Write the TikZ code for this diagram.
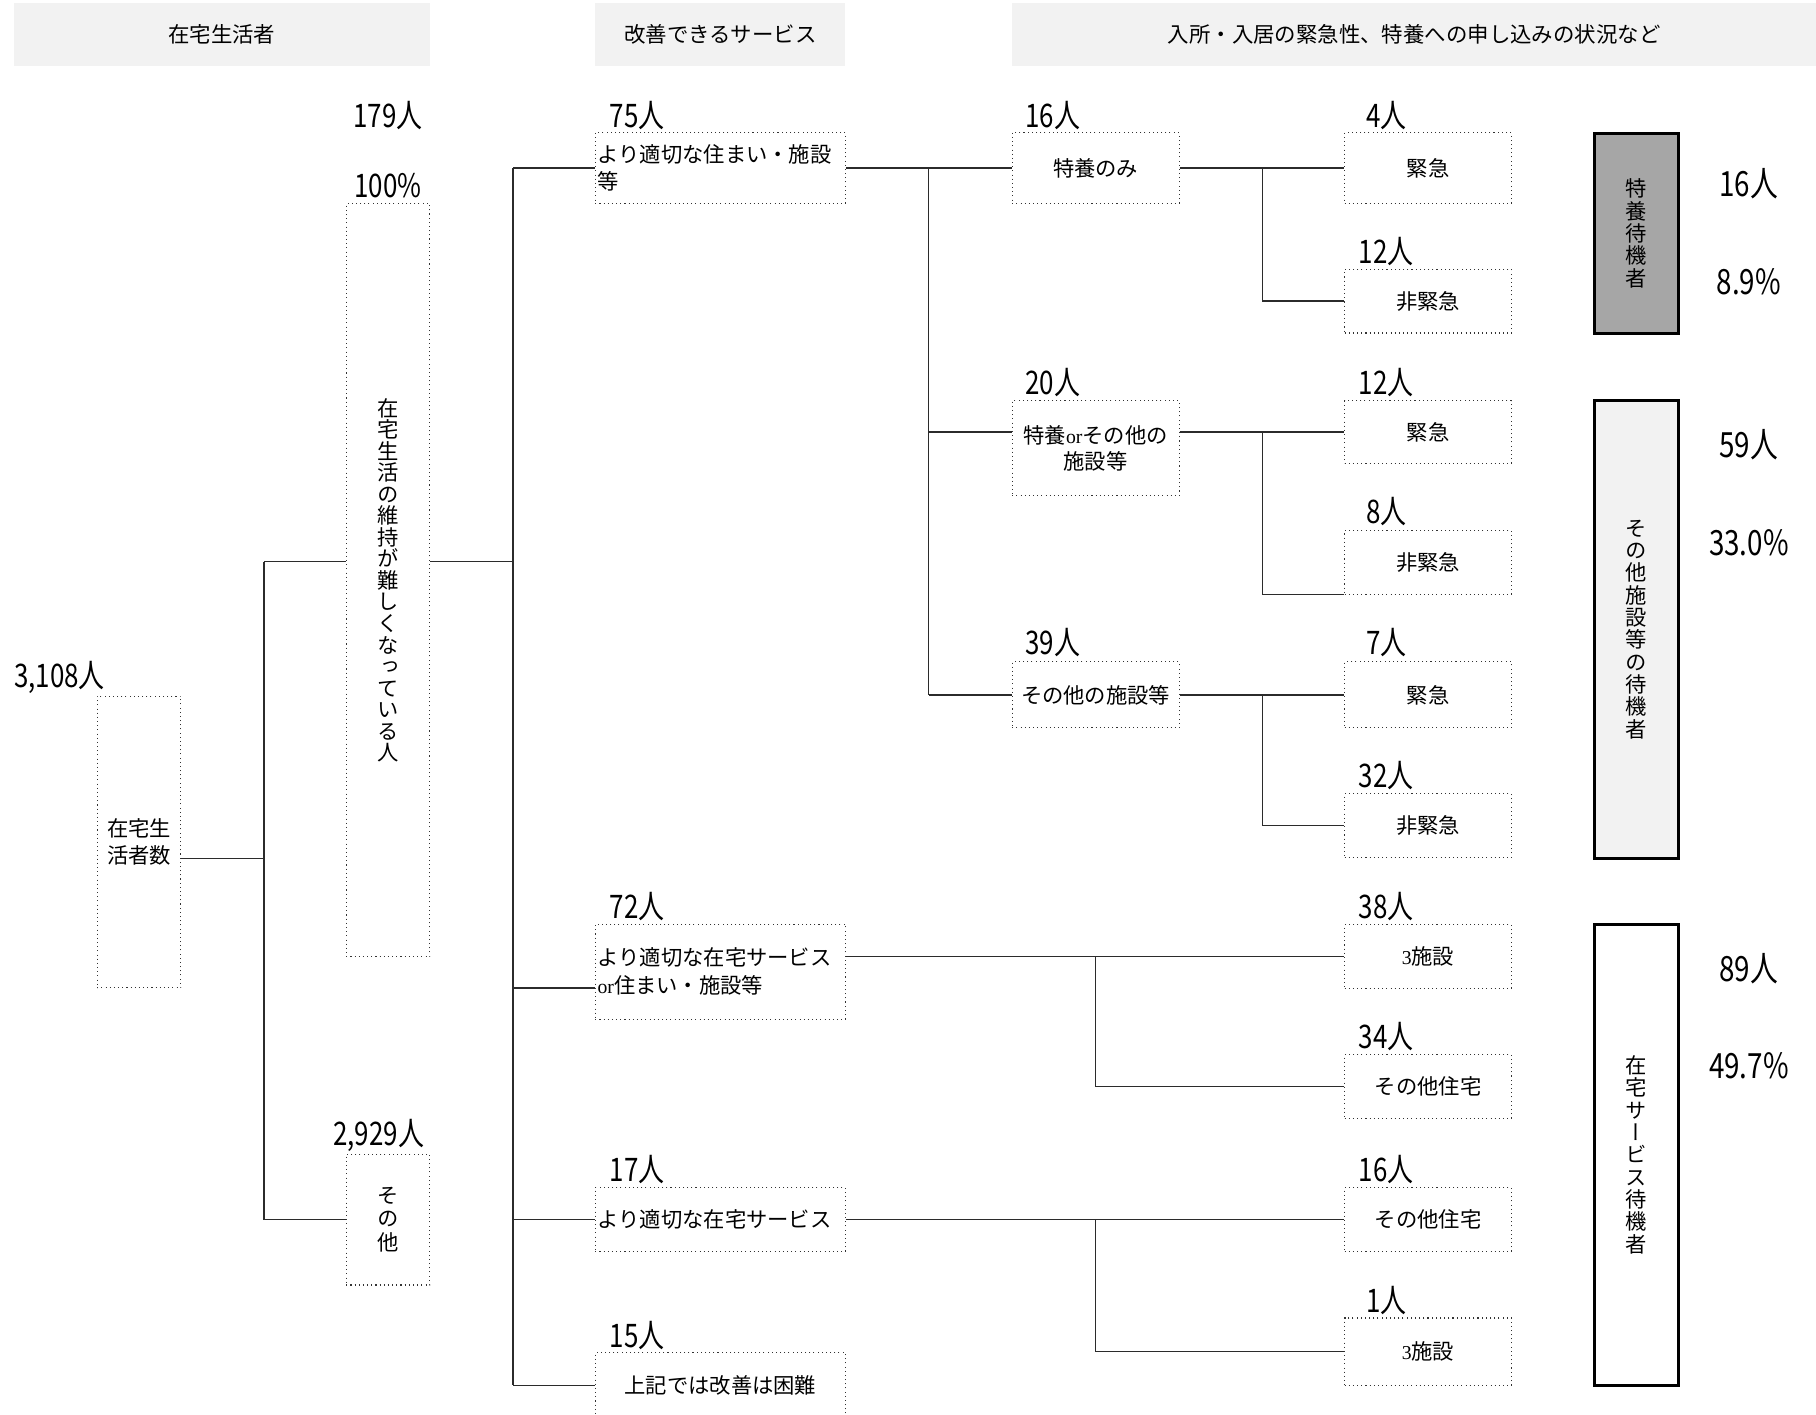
\documentclass[tikz,border=0pt]{standalone}
\usepackage{fontspec}
\usepackage{graphicx}
\setmainfont{Noto Sans CJK JP}
\newfontfamily\numfont[FakeStretch=0.8]{Noto Sans CJK JP}
\newfontfamily\vfont[RawFeature=+vert]{Noto Sans CJK JP}
\newfontfamily\serfont{Liberation Serif}
\usetikzlibrary{calc}
\definecolor{hdr}{HTML}{F2F2F2}
\definecolor{dgray}{HTML}{A6A6A6}
\definecolor{lgray}{HTML}{F2F2F2}
\definecolor{conncol}{HTML}{2B2B2B}
\begin{document}
\begin{tikzpicture}[x=1pt,y=-1pt,
  hdrbox/.style={fill=hdr, inner sep=0pt, font=\fontsize{18.5}{22}\selectfont},
  dbox/.style={draw=black!80, line width=0.9pt, dash pattern=on 0.9pt off 2.7pt, inner sep=2pt, align=center, font=\fontsize{18.4}{23}\selectfont},
  sbox/.style={draw=black, line width=2.4pt, inner sep=0pt, minimum width=72pt, align=center, font=\vfont\fontsize{18.4}{19.3}\selectfont},
  conn/.style={draw=conncol, line width=1.1pt},
  num/.style={font=\numfont\fontsize{28}{30}\selectfont, inner sep=0pt},
  bignum/.style={font=\numfont\fontsize{30}{32}\selectfont, inner sep=0pt},
  vtxt/.style={font=\vfont\fontsize{18.4}{18.6}\selectfont},
  c1/.style={minimum width=72pt},
  c2/.style={minimum width=216pt},
  c34/.style={minimum width=144pt},
  lft/.style={text width=212pt, align=left}
]
\fill[white] (0,0) rectangle (1568,1221);
\useasboundingbox (0,0) rectangle (1568,1221);

% headers
\node[hdrbox, minimum width=359pt, minimum height=54pt] (h1) at (191.5,30) {在宅生活者};
\node[hdrbox, minimum width=216pt, minimum height=54pt] (h2) at (622,30) {改善できるサービス};
\node[hdrbox, minimum width=694pt, minimum height=54pt] (h3) at (1221,30) {入所・入居の緊急性、特養への申し込みの状況など};

% column 1
\node[dbox, c1, minimum height=252pt] (A) at (120,727) {在宅生\\活者数};
\node[dbox, c1, minimum height=650pt, vtxt] (B) at (335,501) {在\\宅\\生\\活\\の\\維\\持\\が\\難\\し\\く\\な\\っ\\て\\い\\る\\人};
\node[dbox, c1, minimum height=113pt, font=\vfont\fontsize{18.4}{20.5}\selectfont] (C) at (335,1053) {そ\\の\\他};

% column 2
\node[dbox, c2, lft, minimum height=61pt] (D) at (622,145) {より適切な住まい・施設\\等};
\node[dbox, c2, lft, minimum height=82pt, font=\fontsize{18.4}{24}\selectfont] (E) at (622,839) {より適切な在宅サービス\\{\serfont\fontsize{17}{24}\selectfont or}住まい・施設等};
\node[dbox, c2, lft, minimum height=55pt] (F) at (622,1053) {より適切な在宅サービス};
\node[dbox, c2, minimum height=56pt] (G) at (622,1196) {上記では改善は困難};

% column 3
\node[dbox, c34, minimum height=61pt] (H) at (946,145) {特養のみ};
\node[dbox, c34, minimum height=82pt, font=\fontsize{18.4}{22}\selectfont] (I) at (946,387) {特養{\serfont\fontsize{17}{22}\selectfont or}その他の\\施設等};
\node[dbox, c34, minimum height=57pt] (J) at (946,600) {その他の施設等};

% column 4
\node[dbox, c34, minimum height=61pt] (K) at (1233,145) {緊急};
\node[dbox, c34, minimum height=55pt] (L) at (1233,260) {非緊急};
\node[dbox, c34, minimum height=54pt] (M) at (1233,373) {緊急};
\node[dbox, c34, minimum height=55pt] (N) at (1233,485.5) {非緊急};
\node[dbox, c34, minimum height=57pt] (O) at (1233,600) {緊急};
\node[dbox, c34, minimum height=55pt] (P) at (1233,713) {非緊急};
\node[dbox, c34, minimum height=55pt] (Q) at (1233,826) {{\serfont\fontsize{17}{20}\selectfont 3}施設};
\node[dbox, c34, minimum height=55pt] (R) at (1233,938) {その他住宅};
\node[dbox, c34, minimum height=55pt] (S) at (1233,1053) {その他住宅};
\node[dbox, c34, minimum height=58pt] (T) at (1233,1167) {{\serfont\fontsize{17}{20}\selectfont 3}施設};

% summary boxes
\node[sbox, fill=dgray, minimum height=173pt] (U) at (1413,201.5) {特\\養\\待\\機\\者};
\node[sbox, fill=lgray, minimum height=395pt] (V) at (1413,543.5) {そ\\の\\他\\施\\設\\等\\の\\待\\機\\者};
\node[sbox, fill=white, minimum height=398pt] (W) at (1413,997) {在\\宅\\サ\\ー\\ビ\\ス\\待\\機\\者};

% count labels
\node[num, anchor=west] (nA) at (12,585) {3,108人};
\node[num] (nB) at (335,100) {179人};
\node[num] (pB) at (335,160) {100\%};
\node[num] (nC) at (327,980) {2,929人};
\node[num] (nD) at (550,100) {75人};
\node[num] (nE) at (550,783) {72人};
\node[num] (nF) at (550,1010) {17人};
\node[num] (nG) at (550,1153) {15人};
\node[num] (nH) at (909,100) {16人};
\node[num] (nI) at (909,330) {20人};
\node[num] (nJ) at (909,555) {39人};
\node[num] (nK) at (1197,100) {4人};
\node[num] (nL) at (1197,217) {12人};
\node[num] (nM) at (1197,330) {12人};
\node[num] (nN) at (1197,442) {8人};
\node[num] (nO) at (1197,555) {7人};
\node[num] (nP) at (1197,670) {32人};
\node[num] (nQ) at (1197,783) {38人};
\node[num] (nR) at (1197,895) {34人};
\node[num] (nS) at (1197,1010) {16人};
\node[num] (nT) at (1197,1123) {1人};

\node[bignum] (nU) at (1510,159) {16人};
\node[bignum] (pU) at (1510,243) {8.9\%};
\node[bignum] (nV) at (1510,384) {59人};
\node[bignum] (pV) at (1510,469) {33.0\%};
\node[bignum] (nW) at (1510,836) {89人};
\node[bignum] (pW) at (1510,920) {49.7\%};

% junction coordinates
\coordinate (j1) at (228,741);
\coordinate (j1t) at (228,485);
\coordinate (j1b) at (228,1053);
\coordinate (j2) at (443,485);
\coordinate (j2t) at (443,145);
\coordinate (j2e) at (443,853);
\coordinate (j2f) at (443,1053);
\coordinate (j2b) at (443,1196);
\coordinate (j3t) at (802,145);
\coordinate (j3i) at (802,373);
\coordinate (j3b) at (802,600);
\coordinate (j4a) at (1090,145);
\coordinate (j4c) at (1090,373);
\coordinate (j4e) at (1090,600);
\coordinate (j5a) at (946,826);
\coordinate (j5c) at (946,1053);

% connectors
\draw[conn] ([yshift=-14pt]A.east) -- (j1);
\draw[conn] (j1t) -- (j1b);
\draw[conn] (j1t) -- ([yshift=16pt]B.west);
\draw[conn] (j1b) -- (C.west);
\draw[conn] ([yshift=16pt]B.east) -- (j2);
\draw[conn] (j2t) -- (j2b);
\draw[conn] (j2t) -- (D.west);
\draw[conn] (j2e) -- ([yshift=-14pt]E.west);
\draw[conn] (j2f) -- (F.west);
\draw[conn] (j2b) -- (G.west);
\draw[conn] (D.east) -- (H.west);
\draw[conn] (j3t) -- (j3b);
\draw[conn] (j3i) -- ([yshift=14pt]I.west);
\draw[conn] (j3b) -- (J.west);
\draw[conn] (H.east) -- (K.west);
\draw[conn] (j4a) |- (L.west);
\draw[conn] ([yshift=14pt]I.east) -- (M.west);
\draw[conn] (j4c) |- (N.south west);
\draw[conn] (J.east) -- (O.west);
\draw[conn] (j4e) |- (P.west);
\draw[conn] ([yshift=13pt]E.east) -- (Q.west);
\draw[conn] (j5a) |- (R.west);
\draw[conn] (F.east) -- (S.west);
\draw[conn] (j5c) |- (T.west);
\end{tikzpicture}
\end{document}
